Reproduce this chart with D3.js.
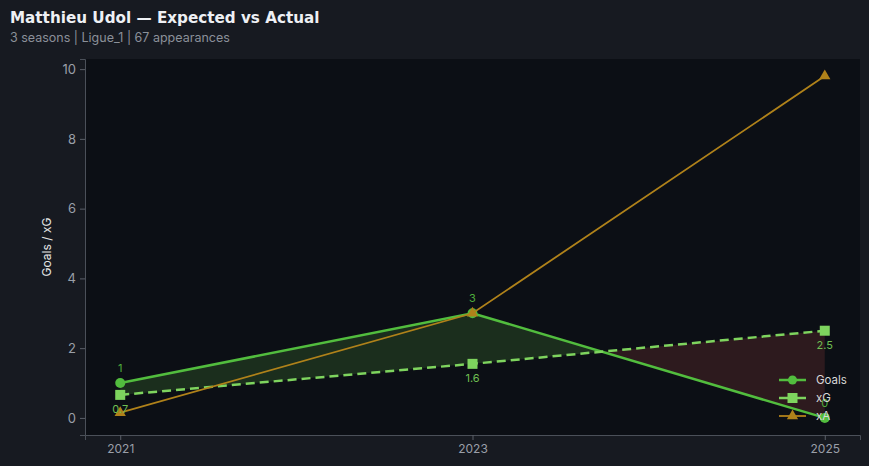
<!DOCTYPE html>
<html><head><meta charset="utf-8">
<script src="https://cdn.jsdelivr.net/npm/d3@7"></script>
<style>body{margin:0;background:#171a21;}svg{display:block;}</style>
</head><body><svg id="c" width="869" height="466"></svg>
<script>
const seasons = [2021, 2023, 2025];
const goals = [1, 3, 0];
const xg = [0.66, 1.55, 2.5];
const xgLabels = ["0.7", "1.6", "2.5"];
const goalLabels = ["1", "3", "0"];
const xa = [0.15, 3.0, 9.8];
const yTicks = [0, 2, 4, 6, 8, 10];
const title = "Matthieu Udol — Expected vs Actual";
const subtitle = "3 seasons | Ligue_1 | 67 appearances";

const svg = d3.select("#c");
const W = 869, H = 466;
const L = 85, R = 860, T = 59, B = 435;
svg.append("rect").attr("width", W).attr("height", H).attr("fill", "#171a21");
svg.append("rect").attr("x", L).attr("y", T).attr("width", R - L).attr("height", B - T).attr("fill", "#0c0f15");

const x = d3.scaleLinear().domain([2020.8, 2025.2]).range([L, R]);
const y = d3.scaleLinear().domain([-0.49, 10.29]).range([B, T]);

const cGoals = "#52bd3e", cXg = "#7ed45e", cXa = "#b0821a";

// fill between goals and xG, merged into contiguous runs per sign
const pts = seasons.map((s, i) => ({s, g: goals[i], e: xg[i]}));
const runs = [];
function push(sign, p) {
  let r = runs[runs.length - 1];
  if (!r || r.sign !== sign) { r = {sign, pts: []}; runs.push(r); }
  if (!r.pts.length || r.pts[r.pts.length - 1] !== p) r.pts.push(p);
}
for (let i = 0; i < pts.length - 1; i++) {
  const a = pts[i], b = pts[i + 1];
  const da = a.g - a.e, db = b.g - b.e;
  if (da >= 0 && db >= 0) { push(1, a); push(1, b); }
  else if (da <= 0 && db <= 0) { push(-1, a); push(-1, b); }
  else {
    const t = da / (da - db);
    const m = {s: a.s + t * (b.s - a.s), g: a.g + t * (b.g - a.g)};
    m.e = m.g;
    const s1 = da > 0 ? 1 : -1;
    push(s1, a); push(s1, m); push(-s1, m); push(-s1, b);
  }
}
const area = d3.area().x(d => x(d.s)).y0(d => y(d.e)).y1(d => y(d.g));
runs.forEach(r => svg.append("path").attr("d", area(r.pts)).attr("fill", r.sign > 0 ? "#1b2e1d" : "#2d1a1e"));

// axes
const gy = svg.append("g").attr("transform", `translate(${L},0)`)
  .call(d3.axisLeft(y).tickValues(yTicks).tickSize(5).tickPadding(4));
const gx = svg.append("g").attr("transform", `translate(0,${B})`)
  .call(d3.axisBottom(x).tickValues(seasons).tickFormat(d3.format("d")).tickSize(5).tickPadding(4));
[gy, gx].forEach(g => {
  g.select(".domain").attr("stroke", "#4b5059");
  g.selectAll(".tick line").attr("stroke", "#5a5f68");
  g.selectAll(".tick text").attr("fill", "#9a9fa8").attr("font-family", "Inter, sans-serif").attr("font-size", 13);
});
gx.selectAll(".tick text").attr("font-size", 12);
svg.append("rect").attr("x", R).attr("y", T).attr("width", 1).attr("height", B - T).attr("fill", "#171a21");

svg.append("text").attr("transform", `translate(51,${(T + B) / 2}) rotate(-90)`)
  .attr("text-anchor", "middle").attr("fill", "#e6e6e6").attr("font-family", "Inter, sans-serif")
  .attr("font-size", 12).text("Goals / xG");

const line = d3.line().x((d, i) => x(seasons[i])).y(d => y(d));
const tri = d3.symbol().type(d3.symbolTriangle).size(55);

// Goals
svg.append("path").attr("d", line(goals)).attr("fill", "none").attr("stroke", cGoals).attr("stroke-width", 2.5);
svg.selectAll(".gl").data(goals).join("circle")
  .attr("cx", (d, i) => x(seasons[i])).attr("cy", d => y(d)).attr("r", 5).attr("fill", cGoals);

// xG
svg.append("path").attr("d", line(xg)).attr("fill", "none").attr("stroke", cXg).attr("stroke-width", 2.5).attr("stroke-dasharray", "9,5");
svg.selectAll(".xg").data(xg).join("rect")
  .attr("x", (d, i) => x(seasons[i]) - 5).attr("y", d => y(d) - 5).attr("width", 10).attr("height", 10).attr("fill", cXg);

// xA
svg.append("path").attr("d", line(xa)).attr("fill", "none").attr("stroke", cXa).attr("stroke-width", 1.8);
svg.selectAll(".xa").data(xa).join("path").attr("d", tri)
  .attr("transform", (d, i) => `translate(${x(seasons[i])},${y(d)})`).attr("fill", cXa);

// labels
svg.selectAll(".gt").data(goals).join("text")
  .attr("x", (d, i) => x(seasons[i])).attr("y", d => y(d) - 11).attr("text-anchor", "middle")
  .attr("fill", "#4fae3c").attr("font-family", "Inter, sans-serif").attr("font-size", 11)
  .text((d, i) => goalLabels[i]);
svg.selectAll(".xt").data(xg).join("text")
  .attr("x", (d, i) => x(seasons[i])).attr("y", d => y(d) + 18).attr("text-anchor", "middle")
  .attr("fill", "#6fbf52").attr("font-family", "Inter, sans-serif").attr("font-size", 11)
  .text((d, i) => xgLabels[i]);

// legend
const leg = [
  {name: "Goals", c: cGoals, m: "circle", dash: null, w: 2.5},
  {name: "xG", c: cXg, m: "square", dash: "9,5", w: 2.5},
  {name: "xA", c: cXa, m: "tri", dash: null, w: 1.8}
];
leg.forEach((d, i) => {
  const yy = 380 + i * 18, x0 = 779, x1 = 806, cx = (x0 + x1) / 2;
  svg.append("line").attr("x1", x0).attr("x2", x1).attr("y1", yy).attr("y2", yy)
    .attr("stroke", d.c).attr("stroke-width", d.w);
  if (d.m === "circle") svg.append("circle").attr("cx", cx).attr("cy", yy).attr("r", 4.5).attr("fill", d.c);
  else if (d.m === "square") svg.append("rect").attr("x", cx - 5).attr("y", yy - 5).attr("width", 10).attr("height", 10).attr("fill", d.c);
  else svg.append("path").attr("d", tri).attr("transform", `translate(${cx},${yy})`).attr("fill", d.c);
  svg.append("text").attr("x", 816).attr("y", yy + 4).attr("fill", "#d8d8d8")
    .attr("font-family", "Inter, sans-serif").attr("font-size", 11.5).text(d.name);
});

// titles
svg.append("text").attr("x", 10).attr("y", 23).attr("fill", "#eef0f4")
  .attr("font-family", "'DejaVu Sans', sans-serif").attr("font-weight", "bold").attr("font-size", 15.2).text(title);
svg.append("text").attr("x", 10).attr("y", 42).attr("fill", "#8b9099")
  .attr("font-family", "Inter, sans-serif").attr("font-size", 12.5).text(subtitle);
</script></body></html>
